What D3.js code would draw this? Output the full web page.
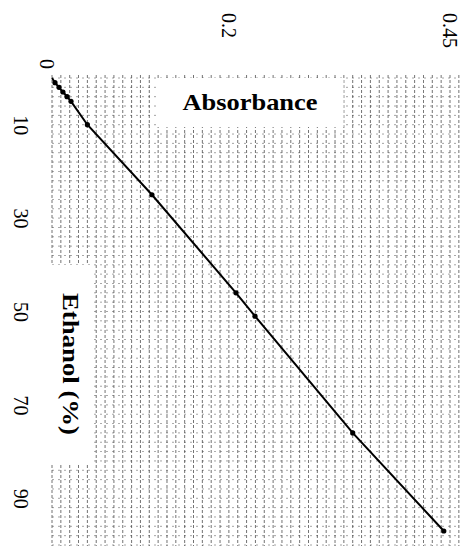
<!DOCTYPE html>
<html>
<head>
<meta charset="utf-8">
<script src="https://cdn.jsdelivr.net/npm/d3@7"></script>
<style>
  body { margin: 0; background: #fff; }
  text { font-family: 'Liberation Serif', 'Times New Roman', serif; fill: #000; }
</style>
</head>
<body>
<div id="chart"></div>
<script>
// values
const ethanol = [1, 2, 3, 4, 5, 10, 25, 46, 51, 76, 97];
const absorbance = [0.0034, 0.0079, 0.0124, 0.017, 0.0215, 0.040, 0.113, 0.208, 0.2295, 0.340, 0.443];
const ethanolTicks = [10, 30, 50, 70, 90];
const absorbanceTicks = [0.2, 0.45];

const W = 465, H = 546;

const svg = d3.select('#chart').append('svg')
	.attr('width', W)
	.attr('height', H);

// the whole chart is drawn upright, then turned a quarter clockwise
let g = svg.append('g').attr('transform', `translate(${W},0) rotate(90)`);

let x = d3.scaleLinear().domain([0, 100]).range([78, 545]);
let y = d3.scaleLinear().domain([0, 0.45]).range([413, 15]);

// scanned grid paper
let grid = g.append('g').attr('class', 'grid');

grid.selectAll('.gv')
	.data(d3.range(0, 0.461, 0.01))
	.enter()
	.append('line')
	.attr('x1', x(0) - 3)
	.attr('x2', H)
	.attr('y1', d => y(d))
	.attr('y2', d => y(d))
	.attr('stroke', '#222')
	.attr('stroke-width', 0.9)
	.attr('stroke-dasharray', '3,2')
	.attr('opacity', 0.7);

grid.selectAll('.gh')
	.data(d3.range(0, 101, 2))
	.enter()
	.append('line')
	.attr('x1', d => x(d))
	.attr('x2', d => x(d))
	.attr('y1', y(0))
	.attr('y2', y(0.46))
	.attr('stroke', '#333')
	.attr('stroke-width', 0.8)
	.attr('stroke-dasharray', '2,4')
	.attr('opacity', 0.55);

// axes (no lines, only labels)
let xAxis = g.append('g')
	.attr('transform', `translate(0,${y(0)})`)
	.call(d3.axisBottom(x).tickValues(ethanolTicks).tickSize(0).tickPadding(24));

let yAxis = g.append('g')
	.attr('transform', `translate(${x(0)},0)`)
	.call(d3.axisLeft(y).tickValues(absorbanceTicks).tickSize(0).tickFormat(d3.format('')));

[xAxis, yAxis].forEach(a => {
	a.select('.domain').remove();
	a.selectAll('text')
		.style('font-family', "'Liberation Serif', 'Times New Roman', serif")
		.style('font-size', '20px');
});

yAxis.selectAll('text')
	.attr('text-anchor', 'start')
	.attr('x', -65);

// shared origin label
g.append('text')
	.attr('x', x(0) - 14)
	.attr('y', y(0) + 5)
	.attr('dy', '0.35em')
	.attr('text-anchor', 'middle')
	.style('font-size', '20px')
	.text('0');

// fitted line and measured points
let pts = ethanol.map((e, i) => [e, absorbance[i]]);

let line = d3.line()
	.x(d => x(d[0]))
	.y(d => y(d[1]));

g.append('path')
	.datum([[0, 0]].concat(pts))
	.attr('d', line)
	.attr('fill', 'none')
	.attr('stroke', '#000')
	.attr('stroke-width', 2);

g.selectAll('.pt')
	.data(pts)
	.enter()
	.append('circle')
	.attr('class', 'pt')
	.attr('cx', d => x(d[0]))
	.attr('cy', d => y(d[1]))
	.attr('r', 2.6)
	.attr('fill', '#000');

// titles sit inside the plot on white patches
function title(parent, transform, label, len, padAlong, padAcross) {
	let t = parent.append('g').attr('transform', transform);
	let bg = t.append('rect').attr('fill', '#fff');
	let txt = t.append('text')
		.attr('text-anchor', 'middle')
		.attr('textLength', len)
		.attr('lengthAdjust', 'spacingAndGlyphs')
		.style('font-size', '23px')
		.style('font-weight', 'bold')
		.text(label);
	let b = txt.node().getBBox();
	bg.attr('x', b.x - padAlong)
		.attr('y', b.y - padAcross)
		.attr('width', b.width + padAlong * 2)
		.attr('height', b.height + padAcross * 2);
}

title(svg, 'translate(250,110)', 'Absorbance', 135, 26, 12);
title(svg, 'translate(63,364) rotate(90)', 'Ethanol (%)', 142, 28, 10);
</script>
</body>
</html>
